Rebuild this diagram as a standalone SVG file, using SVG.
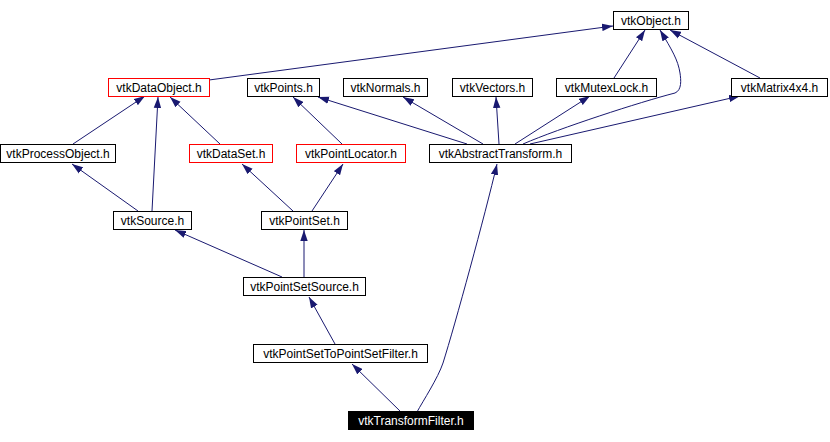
<svg xmlns="http://www.w3.org/2000/svg" width="830" height="442" viewBox="0 0 830 442">
<style>
.n rect{fill:#fff;stroke:#000;stroke-width:1}
.n.r rect{stroke:#ff0000}
.n.b rect{fill:#000}
.n text{font-family:"Liberation Sans",Arial,sans-serif;font-size:12px;text-anchor:middle;fill:#000}
.n.b text{fill:#fff}
#edges path{fill:none;stroke:#191970;stroke-width:1;marker-end:url(#a)}
</style>
<defs>
<marker id="a" markerUnits="userSpaceOnUse" markerWidth="11" markerHeight="8" refX="11" refY="4" orient="auto">
<path d="M0,0.3 L11,4 L0,7.7 z" fill="#191970" stroke="none"/>
</marker>
</defs>
<rect width="830" height="442" fill="#fff"/>
<g id="edges">
<path d="M209,80 L613,26"/>
<path d="M614,78 L645,30"/>
<path d="M523,144 C560,128 640,102 675,93 C682,90 681,80 680,73 C678,60 672,50 660,30"/>
<path d="M760,78 L670,30"/>
<path d="M530,144 L740,96"/>
<path d="M467,144 L318,97"/>
<path d="M483,144 L403,97"/>
<path d="M499,144 L496,97"/>
<path d="M515,144 L590,96"/>
<path d="M73,144 L145,96"/>
<path d="M152,211 L158,97"/>
<path d="M220,144 L170,97"/>
<path d="M342,144 L293,97"/>
<path d="M138,211 L72,164"/>
<path d="M293,211 L242,164"/>
<path d="M312,211 L343,164"/>
<path d="M282,277 L175,230"/>
<path d="M304,277 L304,230"/>
<path d="M335,344 L309,297"/>
<path d="M401,412 L352,364"/>
<path d="M417,412 C423,401 438,378 443,363 C455,325 485,215 497,164"/>
</g>
<g id="vtkObject" class="n"><rect x="613.5" y="11.5" width="75" height="18"/><text x="651" y="25">vtkObject.h</text></g>
<g id="vtkDataObject" class="n r"><rect x="108.5" y="78.5" width="101" height="18"/><text x="159" y="92">vtkDataObject.h</text></g>
<g id="vtkPoints" class="n"><rect x="247.5" y="78.5" width="72" height="18"/><text x="283.5" y="92">vtkPoints.h</text></g>
<g id="vtkNormals" class="n"><rect x="343.5" y="78.5" width="84" height="18"/><text x="385.5" y="92">vtkNormals.h</text></g>
<g id="vtkVectors" class="n"><rect x="452.5" y="78.5" width="80" height="18"/><text x="492.5" y="92">vtkVectors.h</text></g>
<g id="vtkMutexLock" class="n"><rect x="556.5" y="78.5" width="100" height="18"/><text x="606.5" y="92">vtkMutexLock.h</text></g>
<g id="vtkMatrix4x4" class="n"><rect x="731.5" y="78.5" width="96" height="18"/><text x="779.5" y="92">vtkMatrix4x4.h</text></g>
<g id="vtkProcessObject" class="n"><rect x="0.5" y="144.5" width="115" height="18"/><text x="58" y="158">vtkProcessObject.h</text></g>
<g id="vtkDataSet" class="n r"><rect x="189.5" y="144.5" width="83" height="18"/><text x="231" y="158">vtkDataSet.h</text></g>
<g id="vtkPointLocator" class="n r"><rect x="296.5" y="144.5" width="109" height="18"/><text x="351" y="158">vtkPointLocator.h</text></g>
<g id="vtkAbstractTransform" class="n"><rect x="429.5" y="144.5" width="142" height="18"/><text x="500.5" y="158">vtkAbstractTransform.h</text></g>
<g id="vtkSource" class="n"><rect x="113.5" y="211.5" width="78" height="18"/><text x="152.5" y="225">vtkSource.h</text></g>
<g id="vtkPointSet" class="n"><rect x="261.5" y="211.5" width="86" height="18"/><text x="304.5" y="225">vtkPointSet.h</text></g>
<g id="vtkPointSetSource" class="n"><rect x="243.5" y="277.5" width="122" height="18"/><text x="304.5" y="291">vtkPointSetSource.h</text></g>
<g id="vtkPointSetToPointSetFilter" class="n"><rect x="253.5" y="344.5" width="174" height="18"/><text x="340.5" y="358">vtkPointSetToPointSetFilter.h</text></g>
<g id="vtkTransformFilter" class="n b"><rect x="348.5" y="411.5" width="125" height="18"/><text x="411" y="425">vtkTransformFilter.h</text></g>
</svg>
